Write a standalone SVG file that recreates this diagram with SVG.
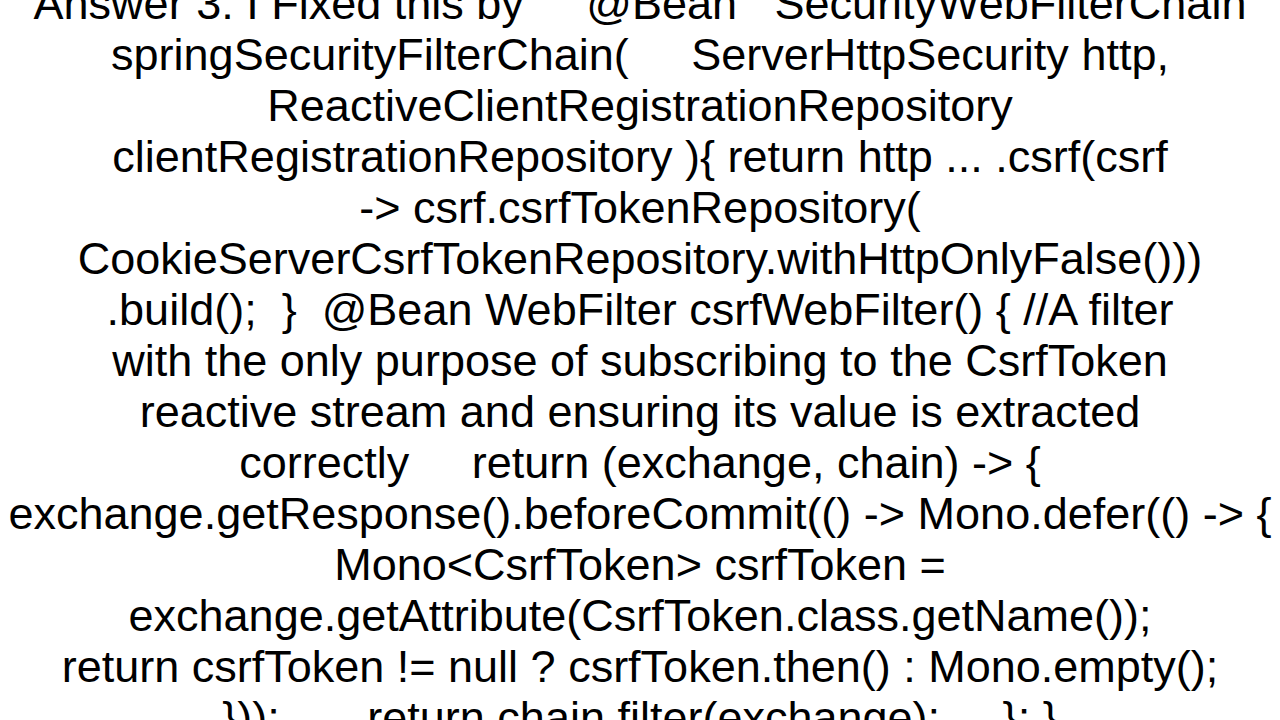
<svg xmlns="http://www.w3.org/2000/svg" width="1280" height="720" viewBox="0 0 1280 720">
<style>text{font-family:"Liberation Sans",Arial,sans-serif;font-size:45px;fill:#000;text-anchor:middle;white-space:pre}</style>
<rect width="1280" height="720" fill="#fff"/>
<g xml:space="preserve">
<text x="640" y="19">Answer 3: I Fixed this by     @Bean   SecurityWebFilterChain</text>
<text x="640" y="70">springSecurityFilterChain(     ServerHttpSecurity http,</text>
<text x="640" y="121">ReactiveClientRegistrationRepository</text>
<text x="640" y="172">clientRegistrationRepository ){ return http ... .csrf(csrf</text>
<text x="640" y="223">-&gt; csrf.csrfTokenRepository(</text>
<text x="640" y="274">CookieServerCsrfTokenRepository.withHttpOnlyFalse()))</text>
<text x="640" y="325">.build();  }  @Bean WebFilter csrfWebFilter() { //A filter</text>
<text x="640" y="376">with the only purpose of subscribing to the CsrfToken</text>
<text x="640" y="427">reactive stream and ensuring its value is extracted</text>
<text x="640" y="478">correctly     return (exchange, chain) -&gt; {</text>
<text x="640" y="529">exchange.getResponse().beforeCommit(() -&gt; Mono.defer(() -&gt; {</text>
<text x="640" y="580">Mono&lt;CsrfToken&gt; csrfToken =</text>
<text x="640" y="631">exchange.getAttribute(CsrfToken.class.getName());</text>
<text x="640" y="682">return csrfToken != null ? csrfToken.then() : Mono.empty();</text>
<text x="640" y="733">}));       return chain.filter(exchange);     }; }</text>
</g>
</svg>
